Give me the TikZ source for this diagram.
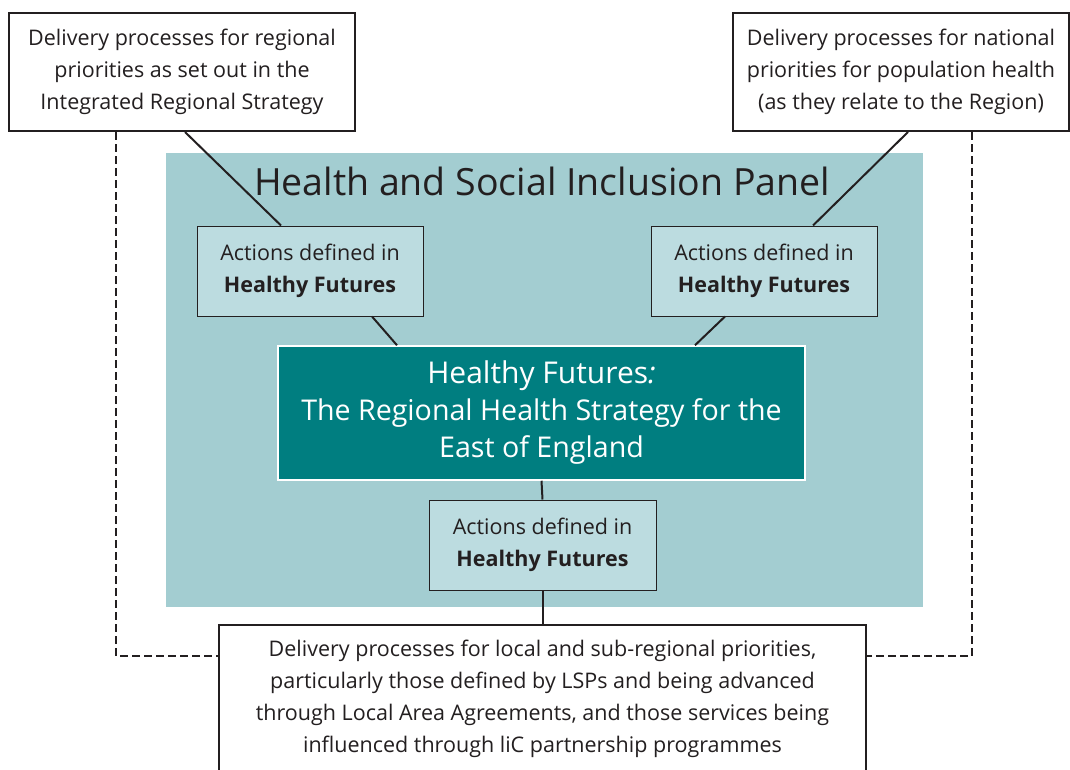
\documentclass[tikz,border=0pt]{standalone}
\usepackage{fontspec}
\setmainfont{Open Sans}
\usetikzlibrary{calc}
\definecolor{ink}{HTML}{231F20}
\definecolor{panel}{HTML}{A3CDD1}
\definecolor{actfill}{HTML}{BCDCE0}
\definecolor{teal}{HTML}{007E80}
\tikzset{
  outerbox/.style={draw=ink, line width=2pt, fill=white, text=ink, align=center, inner sep=0pt,
    font=\fontsize{21.5}{32}\selectfont},
  actbox/.style={draw=ink, line width=1pt, fill=actfill, text=ink, align=center, inner sep=0pt,
    minimum width=226pt, minimum height=90pt, font=\fontsize{21.5}{32}\selectfont},
  conn/.style={draw=ink, line width=2pt},
  dashconn/.style={draw=ink, line width=2pt, dash pattern=on 8pt off 4pt},
}
\begin{document}
\begin{tikzpicture}[x=1pt, y=-1pt]
\useasboundingbox (0,0) rectangle (1070,769);
\clip (0,0) rectangle (1070,769);
% panel
\fill[panel] (166,153) rectangle (923,607);
\node[text=ink, font=\fontsize{37.5}{42}\selectfont, inner sep=0pt] (title) at (542,181) {Health and Social Inclusion Panel};
% outer boxes
\node[outerbox, minimum width=346pt, minimum height=118pt] (tl) at (182,72)
  {Delivery processes for regional\\priorities as set out in the\\Integrated Regional Strategy};
\node[outerbox, minimum width=336pt, minimum height=118pt] (tr) at (901,72)
  {Delivery processes for national\\priorities for population health\\(as they relate to the Region)};
\node[outerbox, minimum width=647pt, minimum height=147pt] (bot) at (542.5,698.5)
  {Delivery processes for local and sub-regional priorities,\\particularly those defined by LSPs and being advanced\\through Local Area Agreements, and those services being\\influenced through liC partnership programmes};
% action boxes
\node[actbox] (la) at (310,271) {Actions defined in\\\textbf{Healthy Futures}};
\node[actbox] (ra) at (764,271) {Actions defined in\\\textbf{Healthy Futures}};
\node[actbox, minimum width=227pt] (ba) at (542.5,545) {Actions defined in\\\textbf{Healthy Futures}};
% centre
\node[draw=white, line width=1.5pt, fill=teal, text=white, align=center, inner sep=0pt,
  minimum width=527pt, minimum height=134pt, font=\fontsize{28.6}{37}\selectfont] (hf) at (541.5,413)
  {{\fontsize{30}{37}\selectfont Healthy Futures\textit{:}}\\The Regional Health Strategy for the\\East of England};
% connectors
\draw[conn] ([xshift=3pt]tl.south) -- ([xshift=-29pt]la.north);
\draw[conn] ([xshift=7pt]tr.south) -- ([xshift=49pt]ra.north);
\draw[conn] ([xshift=62pt]la.south) -- ([xshift=-144.5pt]hf.north);
\draw[conn] ([xshift=-39pt]ra.south) -- ([xshift=153.5pt]hf.north);
\draw[conn] (hf.south) -- (ba.north);
\draw[conn] (ba.south) -- (bot.north);
% dashed
\coordinate (dl) at (116,656);
\coordinate (dr) at (972,656);
\draw[dashconn] (tl.south -| dl) -- (dl) -- (bot.west |- dl);
\draw[dashconn] (tr.south -| dr) -- (dr) -- (bot.east |- dr);
\end{tikzpicture}
\end{document}
